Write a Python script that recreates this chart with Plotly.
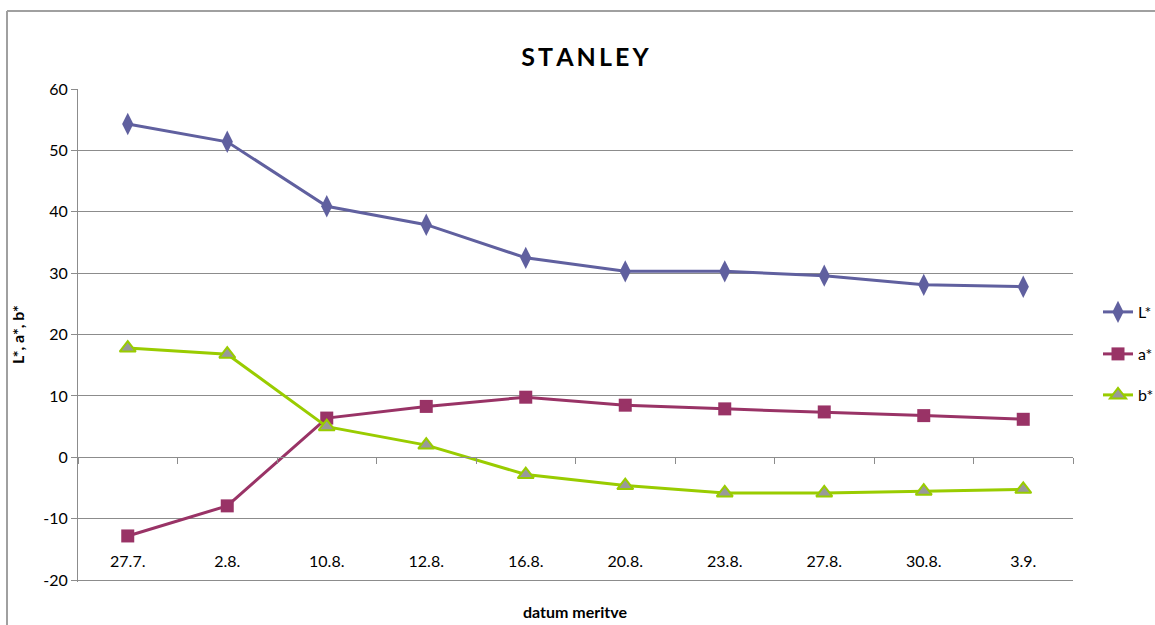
import plotly.graph_objects as go

# Measurement dates (x categories)
dates = ["27.7.", "2.8.", "10.8.", "12.8.", "16.8.", "20.8.", "23.8.", "27.8.", "30.8.", "3.9."]

# CIELAB colour components per measurement date
L_star = [54.3, 51.4, 40.9, 37.9, 32.5, 30.3, 30.3, 29.6, 28.1, 27.8]
a_star = [-12.8, -7.9, 6.4, 8.3, 9.8, 8.5, 7.9, 7.4, 6.8, 6.2]
b_star = [17.8, 16.8, 5.0, 2.0, -2.8, -4.6, -5.8, -5.8, -5.5, -5.2]

y_ticks = [-20, -10, 0, 10, 20, 30, 40, 50, 60]
y_tick_text = [str(v) for v in y_ticks]

FONT = "Lato, Open Sans, sans-serif"
GRID = "#8c8c8c"
Y_MIN, Y_MAX = -20.3, 60.0

W, H = 1155, 625
M_L, M_R, M_T, M_B = 78, 82, 89, 43
PW, PH = W - M_L - M_R, H - M_T - M_B


def px_to_paper(px, py):
    """Convert page pixel position to paper coordinates of the plot area."""
    return (px - M_L) / PW, (H - M_B - py) / PH


fig = go.Figure()

fig.add_trace(go.Scatter(
    x=dates, y=L_star, name="L*", mode="lines+markers",
    line=dict(color="#60609f", width=3),
    marker=dict(symbol="diamond-tall", size=16, color="#60609f"),
    legend="legend",
))
fig.add_trace(go.Scatter(
    x=dates, y=a_star, name="a*", mode="lines+markers",
    line=dict(color="#993366", width=3),
    marker=dict(symbol="square", size=13, color="#993366"),
    legend="legend2",
))
fig.add_trace(go.Scatter(
    x=dates, y=b_star, name="b*", mode="lines+markers",
    line=dict(color="#99cc00", width=3),
    marker=dict(symbol="triangle-up", size=14, color="#999999",
                line=dict(color="#99cc00", width=2)),
    legend="legend3",
))

legend_common = dict(
    xref="container", yref="container", x=1098 / W, xanchor="left", yanchor="middle",
    bgcolor="rgba(0,0,0,0)", font=dict(family=FONT, size=16, color="#000"),
    itemwidth=30,
)

xt_x, xt_y = px_to_paper(575, 611)
yt_x, yt_y = px_to_paper(17, 335)
fr_x, fr_y = px_to_paper(7, 11)
_, fr_bottom = px_to_paper(7, 640)
fr_right, _ = px_to_paper(1170, 11)

fig.update_layout(
    width=W, height=H,
    margin=dict(l=M_L, r=M_R, t=M_T, b=M_B, autoexpand=False),
    showlegend=True,
    paper_bgcolor="white", plot_bgcolor="white",
    font=dict(family=FONT, size=15, color="#000"),
    title=dict(
        text="<b>S\u2009T\u2009A\u2009N\u2009L\u2009E\u2009Y</b>",
        font=dict(family=FONT, size=25, color="#000"),
        xref="container", yref="container",
        x=585 / W, y=1 - 57 / H, xanchor="center", yanchor="middle",
    ),
    xaxis=dict(
        type="category", range=[-0.5, len(dates) - 0.5],
        anchor="free", position=(0 - Y_MIN) / (Y_MAX - Y_MIN),
        showline=True, linecolor=GRID, linewidth=1,
        ticks="outside", ticklen=6, tickcolor=GRID, tickson="boundaries",
        ticklabelstandoff=89,
        showgrid=False, zeroline=False,
        tickfont=dict(family=FONT, size=16),
    ),
    yaxis=dict(
        range=[Y_MIN, Y_MAX], tickvals=y_ticks, ticktext=y_tick_text,
        showline=True, linecolor=GRID, linewidth=1,
        ticks="outside", ticklen=6, tickcolor=GRID,
        showgrid=True, gridcolor=GRID, gridwidth=1,
        zeroline=False,
        tickfont=dict(family=FONT, size=16),
    ),
    legend=dict(**legend_common, y=1 - 312 / H),
    legend2=dict(**legend_common, y=1 - 354 / H),
    legend3=dict(**legend_common, y=1 - 395 / H),
    annotations=[
        dict(text="<b>datum meritve</b>", xref="paper", yref="paper",
             x=xt_x, y=xt_y, xanchor="center", yanchor="middle",
             showarrow=False, font=dict(family=FONT, size=16)),
        dict(text="<b>L*, a*, b*</b>", xref="paper", yref="paper",
             x=yt_x, y=yt_y, xanchor="center", yanchor="middle",
             textangle=-90, showarrow=False, font=dict(family=FONT, size=16)),
    ],
    shapes=[
        # chart frame (left and top edges)
        dict(type="line", xref="paper", yref="paper", x0=fr_x, x1=fr_x,
             y0=fr_y, y1=fr_bottom, line=dict(color="#a0a0a0", width=2)),
        dict(type="line", xref="paper", yref="paper", x0=fr_x, x1=fr_right,
             y0=fr_y, y1=fr_y, line=dict(color="#a0a0a0", width=2)),
    ],
)

fig.write_html("out.html")
